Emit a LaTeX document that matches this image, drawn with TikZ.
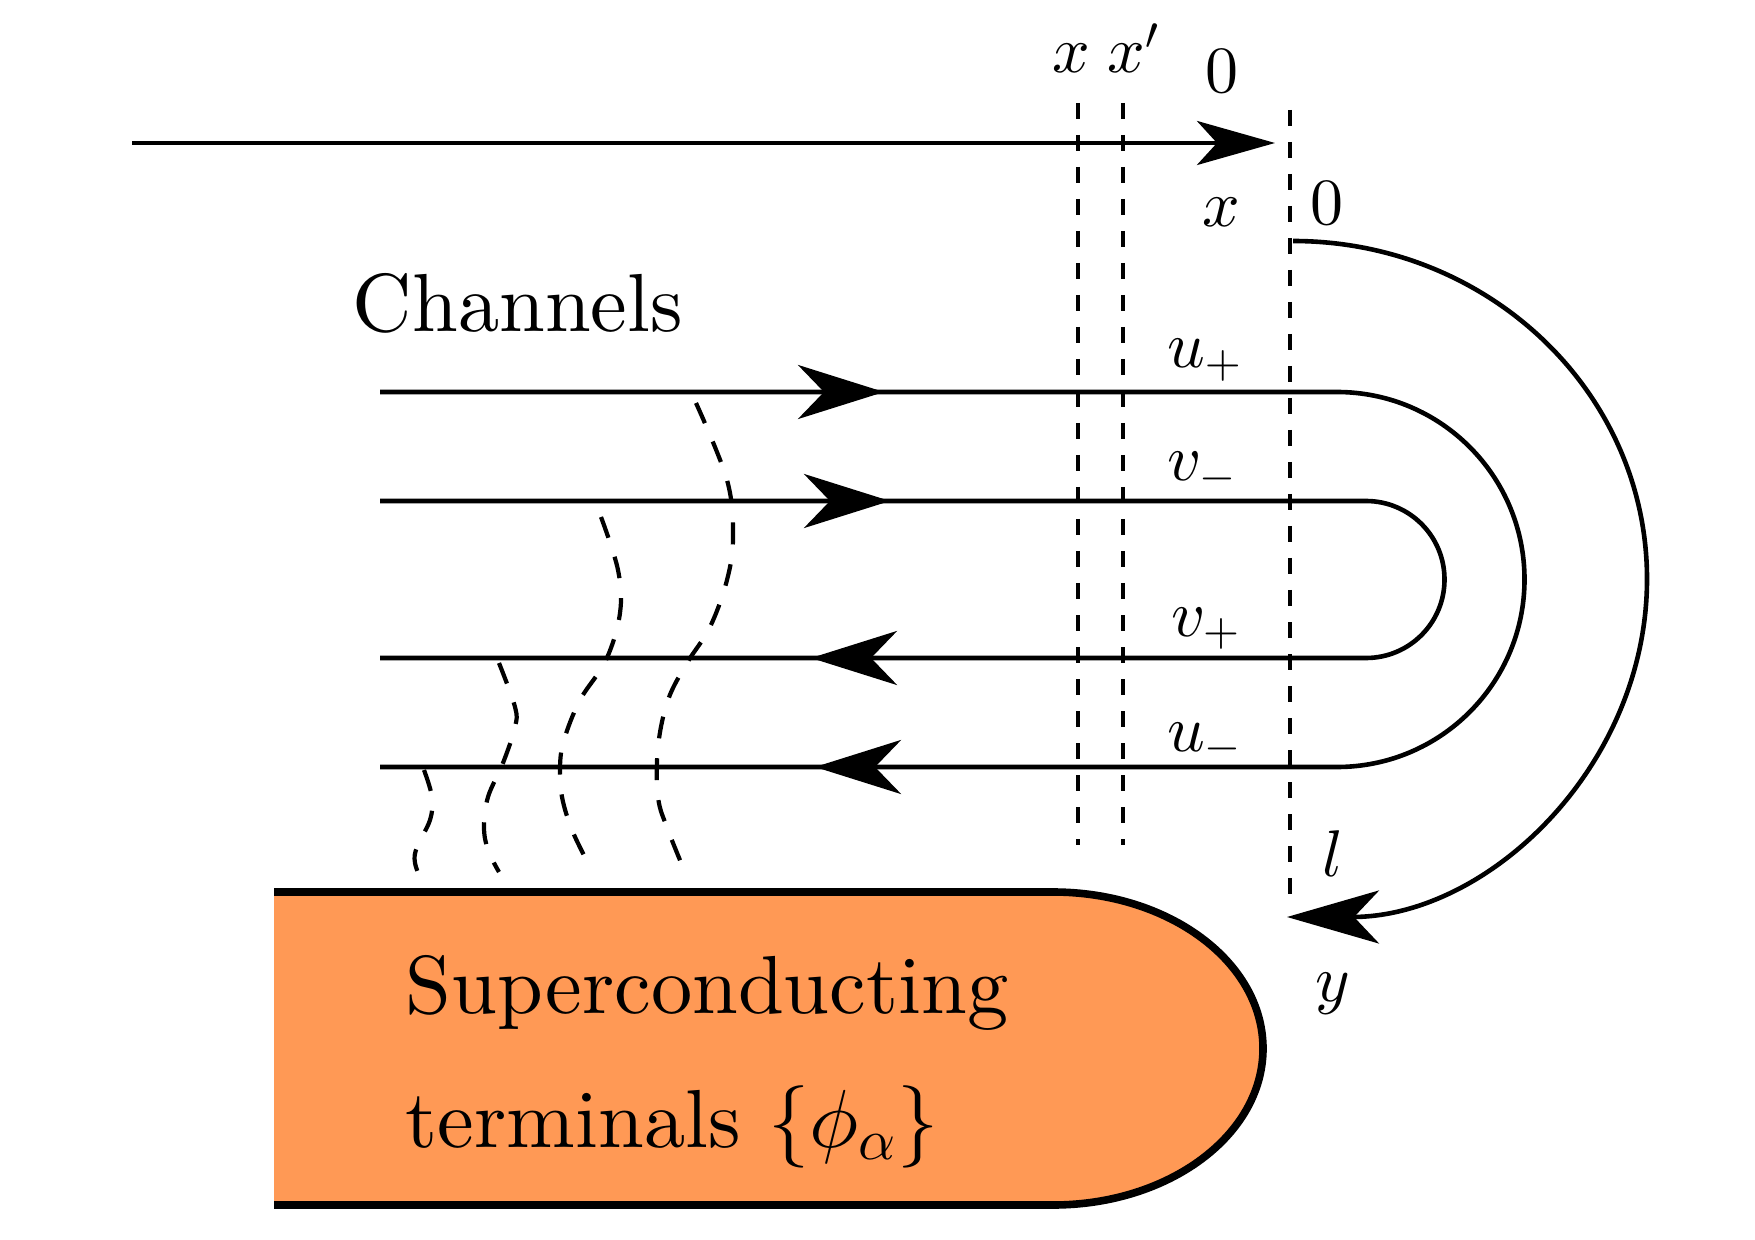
\documentclass[tikz,border=0pt]{standalone}
\usepackage{fontspec}
\setmainfont{lmroman10-regular.otf}
\DeclareFontShape{OML}{cmm}{m}{it}{<->cmmi10}{}
\DeclareFontShape{OMS}{cmsy}{m}{n}{<->cmsy10}{}
\DeclareFontShape{OT1}{cmr}{m}{n}{<->cmr10}{}
\usetikzlibrary{arrows.meta}
\definecolor{scorange}{RGB}{255,153,85}
\begin{document}
\begin{tikzpicture}[x=0.25pt,y=-0.25pt,
  chan/.style={line width=1.15pt},
  vdash/.style={line width=1.1pt, dash pattern=on 4pt off 4pt},
  cdash/.style={line width=1.05pt, dash pattern=on 5.5pt off 5pt},
  chantip/.style={-{Stealth[length=21.5pt,width=13.5pt,inset=6.5pt]}},
  arctip/.style={-{Stealth[length=23pt,width=13.25pt,inset=6.25pt]}},
  axistip/.style={-{Stealth[length=19.5pt,width=11pt,inset=5pt]}},
  lbl/.style={inner sep=0pt, anchor=base, font=\fontsize{16.5}{20}\selectfont},
  bigtext/.style={inner sep=0pt, anchor=base west, font=\fontsize{20.6}{25}\selectfont}]
\useasboundingbox (0,0) rectangle (1755,1240);

% superconducting terminal
\path[fill=scorange, draw, line width=1.9pt]
  (274,892) -- (1053,892) .. controls (1169,892) and (1263,962) .. (1263,1048.5)
  .. controls (1263,1135) and (1169,1205) .. (1053,1205) -- (274,1205);
\node[bigtext] (sc1) at (405,1013) {Superconducting};
\node[bigtext] (sc2) at (405,1147) {terminals $\{\phi_\alpha\}$};

% top axis
\coordinate (axL) at (132,143);
\coordinate (axR) at (1275,143);
\draw[chan, axistip] (axL) -- (axR);

% vertical dashed lines
\coordinate (xT) at (1078,103);  \coordinate (xB) at (1078,845);
\coordinate (xpT) at (1123,103); \coordinate (xpB) at (1123,845);
\coordinate (zT) at (1290,110);  \coordinate (zB) at (1290,907);
\draw[vdash] (xT) -- (xB);
\draw[vdash] (xpT) -- (xpB);
\draw[vdash] (zT) -- (zB);

% channels
\coordinate (upL) at (380,392);
\coordinate (umL) at (380,767);
\coordinate (vmL) at (380,501);
\coordinate (vpL) at (380,658);
\draw[chan] (upL) -- (1337,392) .. controls (1440.6,392) and (1524.5,476) .. (1524.5,579.5)
  .. controls (1524.5,683) and (1440.6,767) .. (1337,767) -- (umL);
\draw[chan] (vmL) -- (1366,501) .. controls (1409.4,501) and (1444.5,536.1) .. (1444.5,579.5)
  .. controls (1444.5,622.9) and (1409.4,658) .. (1366,658) -- (vpL);
\draw[chan, chantip] (700,392) -- (884,392);
\draw[chan, chantip] (700,501) -- (890,501);
\draw[chan, chantip] (1000,658) -- (811,658);
\draw[chan, chantip] (1000,767) -- (815,767);

% big arc
\coordinate (arcS) at (1293,241);
\coordinate (arcE) at (1287,917);
\draw[chan, arctip] (arcS) .. controls (1488.5,241) and (1647,392.3) .. (1647,579)
  .. controls (1647,765.7) and (1488.5,917) .. (arcE);

% dashed curves
\draw[cdash] plot[smooth, tension=0.6] coordinates {(696,403) (727,480) (733,537) (727,580) (710,627) (687,663) (668,700) (658,747) (658,797) (668,830) (687,877)};
\draw[cdash] plot[smooth, tension=0.6] coordinates {(601,517) (618,570) (620,613) (606,660) (580,700) (564,740) (560,767) (562,797) (572,830) (589,865)};
\draw[cdash] plot[smooth, tension=0.6] coordinates {(499,663) (515,707) (515,727) (503,763) (488,797) (484,827) (488,850) (499,872)};
\draw[cdash] plot[smooth, tension=0.6] coordinates {(424,770) (432,797) (430,820) (417,847) (415,863) (423,885)};

% labels
\node[bigtext] (chanlbl) at (352,332) {Channels};
\node[lbl] (lx) at (1071,73) {$x$};
\node[lbl] (lxp) at (1134,73) {$x'$};
\node[lbl] (l0a) at (1222,93) {$0$};
\node[lbl] (lxb) at (1221,227) {$x$};
\node[lbl] (l0b) at (1327,225) {$0$};
\node[lbl] (lup) at (1205,368) {$u_+$};
\node[lbl] (lvm) at (1202,481) {$v_-$};
\node[lbl] (lvp) at (1206,636) {$v_+$};
\node[lbl] (lum) at (1205,751) {$u_-$};
\node[lbl] (ll) at (1333,876) {$l$};
\node[lbl] (ly) at (1333,1001) {$y$};
\end{tikzpicture}
\end{document}
